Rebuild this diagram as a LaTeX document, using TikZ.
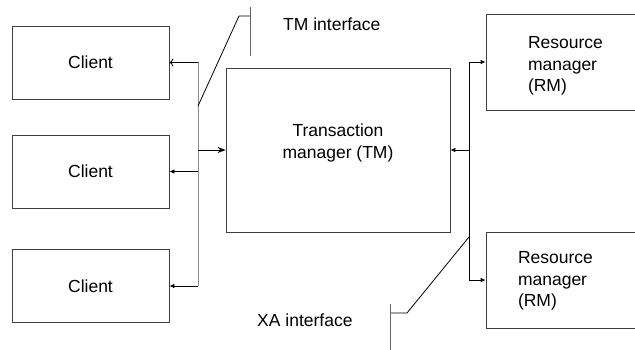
\documentclass[tikz,border=0pt]{standalone}
\usepackage{fontspec}
\setmainfont{Liberation Sans}
\usetikzlibrary{arrows.meta}
\tikzset{
    box/.style={draw=black!75, line width=0.8pt, rectangle, inner sep=0pt,
        minimum width=157pt, minimum height=73pt},
    boxtext/.style={inner sep=0pt},
    wire/.style={line width=0.8pt},
    smalltip/.style={wire, -{Latex[length=5pt,width=4.5pt]}},
    opentip/.style={wire, -{To[length=4pt,width=8pt]}},
    bigtip/.style={wire, -{Stealth[length=8pt,width=6pt]}},
    iflabel/.style={anchor=west, inner sep=0pt},
}
\begin{document}
\begin{tikzpicture}[x=1pt, y=-1pt, font=\fontsize{17.5}{21.5}\selectfont]
        \useasboundingbox (0,0) rectangle (635,350);
        \clip (0,0) rectangle (635,350);
        % clients
        \node [box] (client1) at (90.5,62.5) {Client};
        \node [box] (client2) at (90.5,171.5) {Client};
        \node [box] (client3) at (90.5,286) {Client};
        % transaction manager
        \node [box, minimum width=224pt, minimum height=164pt,
            label={[boxtext, align=center, yshift=7pt]center:Transaction\\manager (TM)}] (tm) at (338,150) {};
        % resource managers
        \node [box, minimum width=154pt, minimum height=96pt,
            label={[boxtext, text width=75pt, align=left, xshift=2.5pt, yshift=-4pt]center:Resource\\manager\\(RM)}] (rm1) at (563,62) {};
        \node [box, minimum width=154pt, minimum height=96pt,
            label={[boxtext, text width=75pt, align=left, xshift=-7.5pt, yshift=-1pt]center:Resource\\manager\\(RM)}] (rm2) at (563,280) {};
        % buses
        \coordinate (cbus) at (198,150);
        \coordinate (rbus) at (469,150);
        \draw[wire, black!45] (cbus |- client1.east) -- (cbus |- client3.east);
        \draw[opentip] (cbus |- client1.east) -- (client1.east);
        \draw[smalltip] (cbus |- client2.east) -- (client2.east);
        \draw[smalltip] (cbus |- client3.east) -- (client3.east);
        \draw[bigtip] (cbus) -- (tm.west);
        \draw[wire] (rbus |- rm1.west) -- (rbus |- rm2.west);
        \draw[smalltip] (rbus |- rm1.west) -- (rm1.west);
        \draw[smalltip] (rbus |- rm2.west) -- (rm2.west);
        \draw[smalltip] (rbus) -- (tm.east);
        % TM interface
        \coordinate (tmtick) at (250,16);
        \draw[wire] (198,106) -- (239,16) -- (tmtick);
        \draw[wire, black!60] (250,7) -- (250,56);
        \node [iflabel] (tmif) at (283,24) {TM interface};
        % XA interface
        \coordinate (xatick) at (390,313);
        \draw[wire] (469,237) -- (407,313) -- (xatick);
        \draw[wire, black!60] (390,304) -- (390,352);
        \node [iflabel] (xaif) at (257,320) {XA interface};
\end{tikzpicture}
\end{document}
